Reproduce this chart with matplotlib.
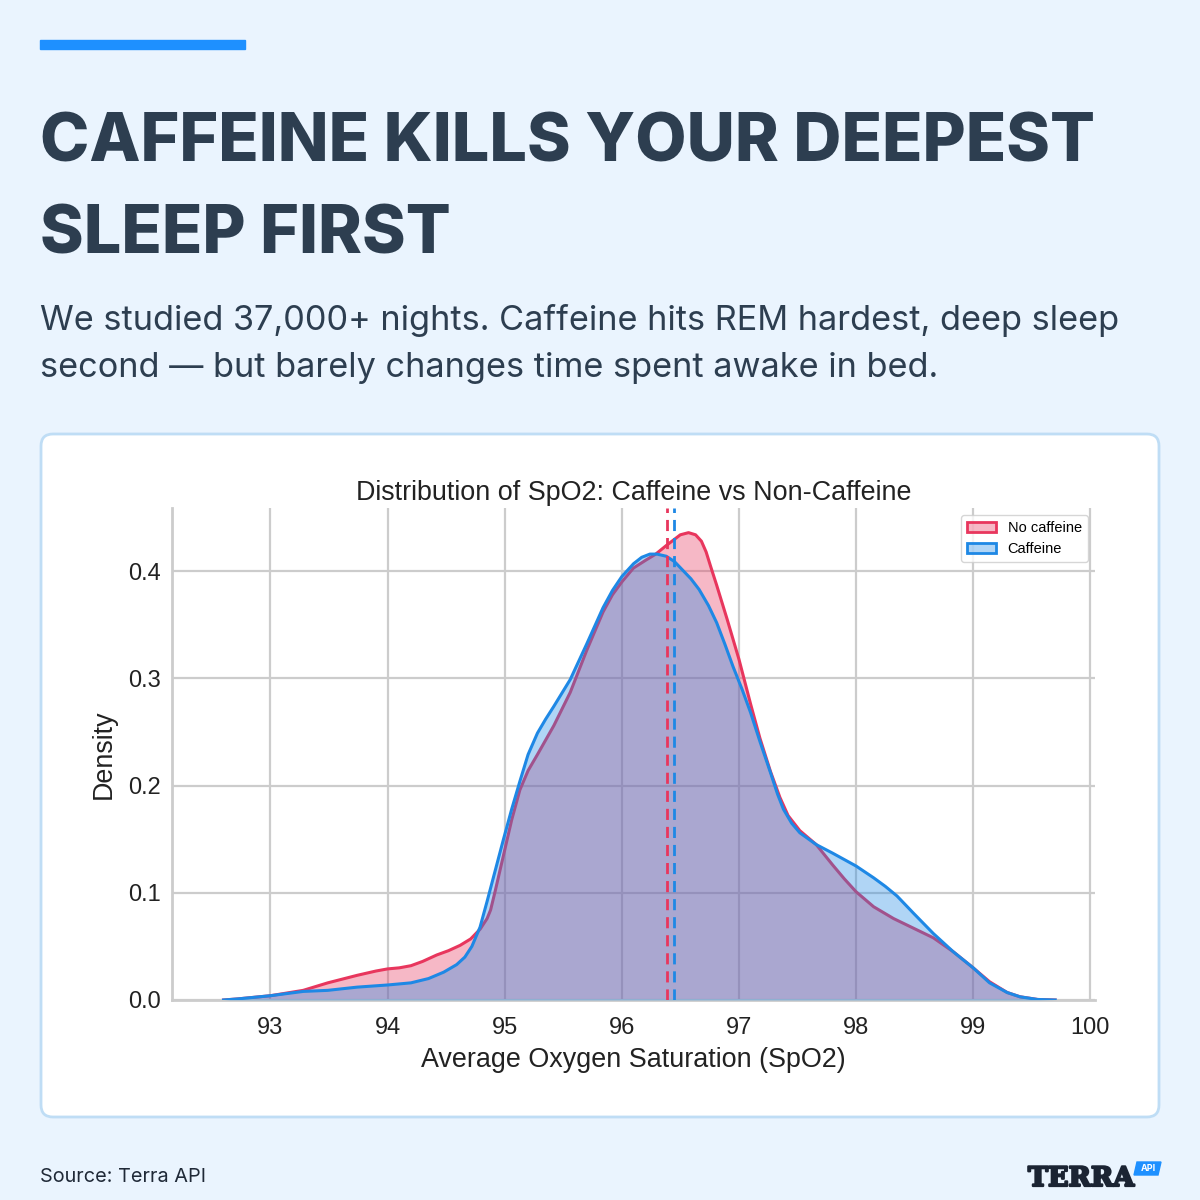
import matplotlib
matplotlib.use("Agg")
import matplotlib.pyplot as plt
import matplotlib.patheffects as pe
from matplotlib.patches import FancyBboxPatch, Rectangle, Patch, Polygon

# ---- data (KDE curves) ----
spo2_no_caf = [92.6, 92.72, 93.0, 93.28, 93.49, 93.74, 93.9, 94.0, 94.1, 94.2, 94.3, 94.42,
               94.52, 94.62, 94.71, 94.79, 94.85, 94.88, 94.92, 94.99, 95.06, 95.13, 95.2,
               95.28, 95.42, 95.56, 95.70, 95.84, 95.92, 96.0, 96.1, 96.2, 96.29, 96.38,
               96.44, 96.5, 96.57, 96.63, 96.68, 96.72, 96.76, 96.81, 96.90, 97.0, 97.10,
               97.18, 97.27, 97.35, 97.42, 97.52, 97.66, 97.80, 97.9, 98.0, 98.15, 98.32,
               98.49, 98.66, 98.83, 99.0, 99.14, 99.29, 99.4, 99.55, 99.7]
dens_no_caf = [0.0, 0.001, 0.004, 0.009, 0.016, 0.023, 0.027, 0.029, 0.030, 0.032, 0.036,
               0.042, 0.046, 0.051, 0.057, 0.066, 0.076, 0.084, 0.102, 0.135, 0.168, 0.196,
               0.214, 0.229, 0.256, 0.287, 0.326, 0.362, 0.378, 0.390, 0.403, 0.410, 0.416,
               0.424, 0.429, 0.434, 0.436, 0.434, 0.428, 0.418, 0.404, 0.387, 0.355, 0.318,
               0.276, 0.244, 0.213, 0.189, 0.172, 0.158, 0.145, 0.126, 0.113, 0.101, 0.087,
               0.076, 0.067, 0.058, 0.045, 0.030, 0.017, 0.007, 0.003, 0.0005, 0.0]

spo2_caf = [92.6, 92.72, 93.0, 93.28, 93.49, 93.74, 94.0, 94.2, 94.35, 94.48, 94.59, 94.66,
            94.72, 94.79, 94.85, 94.92, 94.99, 95.06, 95.13, 95.2, 95.28, 95.35, 95.42,
            95.56, 95.70, 95.84, 95.92, 96.0, 96.1, 96.17, 96.24, 96.3, 96.38, 96.45,
            96.52, 96.59, 96.66, 96.74, 96.81, 96.88, 96.95, 97.03, 97.10, 97.18, 97.27,
            97.33, 97.38, 97.45, 97.52, 97.66, 97.80, 98.0, 98.15, 98.25, 98.35, 98.49,
            98.66, 98.83, 99.0, 99.14, 99.29, 99.4, 99.55, 99.7]
dens_caf = [0.0, 0.001, 0.004, 0.008, 0.009, 0.012, 0.014, 0.016, 0.020, 0.026, 0.033,
            0.040, 0.050, 0.068, 0.092, 0.121, 0.150, 0.178, 0.204, 0.229, 0.249, 0.262,
            0.274, 0.299, 0.332, 0.366, 0.382, 0.395, 0.407, 0.413, 0.416, 0.416, 0.414,
            0.409, 0.401, 0.393, 0.383, 0.368, 0.352, 0.332, 0.311, 0.289, 0.268, 0.241,
            0.212, 0.192, 0.178, 0.165, 0.156, 0.145, 0.137, 0.125, 0.114, 0.106, 0.097,
            0.081, 0.062, 0.045, 0.030, 0.016, 0.007, 0.003, 0.0005, 0.0]

mean_no_caf = 96.39
mean_caf = 96.45

x_ticks = [93, 94, 95, 96, 97, 98, 99, 100]
y_ticks = [0.0, 0.1, 0.2, 0.3, 0.4]

RED = "#E8365D"
BLUE = "#1E88E5"
DARK = "#2D3E50"
BG = "#EAF4FE"

fig = plt.figure(figsize=(12, 12), dpi=100, facecolor=BG)
W = H = 1200.0


def fx(px):
    return px / W


def fy(py):
    return 1 - py / H


# top accent bar
fig.patches.append(Rectangle((fx(40), fy(49)), fx(245) - fx(40), 9 / H,
                             transform=fig.transFigure, color="#1E90FF", zorder=1))

fig.canvas.draw()
renderer = fig.canvas.get_renderer()


def fit_text(x, y, s, target_w, size, **kw):
    t = fig.text(x, y, s, fontsize=size, **kw)
    w = t.get_window_extent(renderer).width
    t.set_fontsize(size * target_w / w)
    return t


# headline
head = fit_text(fx(40), fy(161), "CAFFEINE KILLS YOUR DEEPEST", 1055, 50,
                family="Inter", weight="heavy", color=DARK, va="baseline")
fig.text(fx(40), fy(253), "SLEEP FIRST", fontsize=head.get_fontsize(),
         family="Inter", weight="heavy", color=DARK, va="baseline")

sub = fit_text(fx(40), fy(330), "We studied 37,000+ nights. Caffeine hits REM hardest, deep sleep",
               1078, 23, family="Inter", color=DARK, va="baseline")
fig.text(fx(40), fy(377), "second \u2014 but barely changes time spent awake in bed.",
         fontsize=sub.get_fontsize(), family="Inter", color=DARK, va="baseline")

# card
fig.patches.append(FancyBboxPatch((fx(41), fy(1117)), fx(1159) - fx(41), (1117 - 434) / H,
                                  boxstyle="round,pad=0,rounding_size=0.01",
                                  transform=fig.transFigure, facecolor="white",
                                  edgecolor="#BFDDF5", linewidth=2, zorder=1))

# footer
fit_text(fx(40), fy(1182), "Source: Terra API", 166, 14,
         family="Inter", color="#1F2937", va="baseline")
logo = fit_text(fx(1028), fy(1186), "TERRA", 106, 22,
                family="DejaVu Serif", weight="bold", color="#1B2433", va="baseline")
logo.set_path_effects([pe.withStroke(linewidth=1.6, foreground="#1B2433")])
fig.patches.append(Polygon([(fx(1134), fy(1175)), (fx(1137), fy(1162)),
                            (fx(1161), fy(1162)), (fx(1158), fy(1175))],
                           closed=True, transform=fig.transFigure, color="#1E90FF", zorder=3))
fig.text(fx(1148), fy(1168.5), "API", fontsize=6.5, family="Inter", weight="bold",
         color="white", ha="center", va="center", zorder=4)

# ---- chart ----
ax = fig.add_axes([fx(172), fy(1000), (1095 - 172) / W, (1000 - 508) / H])
ax.set_facecolor("white")
ax.set_zorder(2)

ax.fill_between(spo2_no_caf, dens_no_caf, color=RED, alpha=0.35, linewidth=0, zorder=2)
ax.plot(spo2_no_caf, dens_no_caf, color=RED, lw=2.2, zorder=2, solid_joinstyle="round")
ax.fill_between(spo2_caf, dens_caf, color=BLUE, alpha=0.35, linewidth=0, zorder=3)
ax.plot(spo2_caf, dens_caf, color=BLUE, lw=2.2, zorder=3, solid_joinstyle="round")

ax.axvline(mean_no_caf, color=RED, ls=(0, (4, 2.5)), lw=2, zorder=4)
ax.axvline(mean_caf, color=BLUE, ls=(0, (4, 2.5)), lw=2, zorder=4)

ax.set_xlim(92.16, 100.04)
ax.set_ylim(0, 0.459)
ax.set_xticks(x_ticks)
ax.set_xticklabels([str(v) for v in x_ticks])
ax.set_yticks(y_ticks)
ax.set_yticklabels([f"{v:.1f}" for v in y_ticks])
ax.grid(True, color="#CCCCCC", lw=1.6, zorder=0)
ax.set_axisbelow(True)
for side in ["top", "right"]:
    ax.spines[side].set_visible(False)
for side in ["left", "bottom"]:
    ax.spines[side].set_color("#CCCCCC")
    ax.spines[side].set_linewidth(2)
ax.tick_params(length=0, labelsize=17, colors="#222222")
ax.tick_params(axis="y", pad=8)
ax.tick_params(axis="x", pad=12)
for lbl in ax.get_xticklabels() + ax.get_yticklabels():
    lbl.set_family("Liberation Sans")

ax.set_title("Distribution of SpO2: Caffeine vs Non-Caffeine", family="Liberation Sans",
             fontsize=19.4, color="#222222", pad=6)
ax.set_xlabel("Average Oxygen Saturation (SpO2)", family="Liberation Sans", fontsize=19.4,
              color="#222222", labelpad=6)
ax.set_ylabel("Density", family="Liberation Sans", fontsize=19.4, color="#222222", labelpad=8)

handles = [Patch(facecolor=(0.91, 0.21, 0.36, 0.35), edgecolor=RED, lw=2, label="No caffeine"),
           Patch(facecolor=(0.12, 0.53, 0.9, 0.35), edgecolor=BLUE, lw=2, label="Caffeine")]
ax.legend(handles=handles, loc="upper right", frameon=True,
          borderaxespad=0.5, prop={"family": "Liberation Sans", "size": 10.5})

fig.savefig("out.png", dpi=100, facecolor=BG)
